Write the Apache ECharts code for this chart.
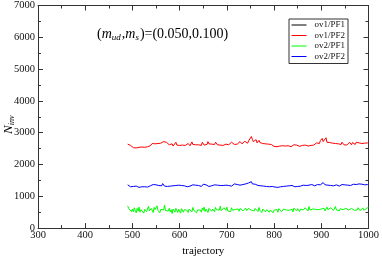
<!DOCTYPE html>
<html>
<head>
<meta charset="utf-8">
<script src="https://cdn.jsdelivr.net/npm/echarts@6/dist/echarts.min.js"></script>
<style>html,body{margin:0;padding:0;background:#fff}#c{width:382px;height:262px}</style>
</head>
<body>
<div id="c"></div>
<script>
// ---- data ----
const trajStart = 490;   // first trajectory shown
const trajStep = 2;      // sampling step of the arrays below
const seriesNames = ['ov1/PF1', 'ov1/PF2', 'ov2/PF1', 'ov2/PF2'];
const xTicks = [300, 400, 500, 600, 700, 800, 900, 1000];
const yTicks = [0, 1000, 2000, 3000, 4000, 5000, 6000, 7000];

const ov1PF1 = []; // not visible in the reference (hidden)

const ov1PF2 = [
2640,2610,2580,2600,2560,
2550,2530,2560,2540,2520,2550,2570,2540,2530,2560,2550,2580,2560,2540,2570,2590,2560,2580,2610,2590,
2630,2660,2620,2690,2650,2640,2680,2660,2630,2700,2670,2690,2650,2720,2680,2760,2700,2660,2640,2620,
2610,2590,2650,2580,2620,2600,2700,2610,2580,2630,2600,2570,2640,2610,2590,2560,2600,2620,2580,2660,2610,2590,2620,2710,2630,2600,2580,2620,2650,2600,
2620,2680,2640,2600,2700,2650,2610,2640,2590,2630,2720,2650,2620,2680,2640,2600,2660,2630,2700,2640,2620,2590,2640,2610,2660,2630,2600,2650,2620,2640,
2630,2660,2620,2680,2650,2700,2640,2670,2630,2690,2660,2640,2700,2670,2720,2680,2650,2700,2680,2730,2690,2710,2670,2740,2700,2750,2880,2790,2720,2760,
2700,2780,2680,2650,2760,2690,2640,2720,2660,2630,2700,2650,2620,2680,2640,2610,2590,2630,2600,2580,
2570,2600,2580,2560,2590,2610,2580,2570,2600,2590,2560,2620,2580,2600,2570,2590,2610,2580,2560,2600,2590,2620,2600,2640,2610,2580,2600,2570,2590,2620,
2600,2630,2590,2610,2650,2600,2580,2620,2640,2600,2590,2630,2610,2650,2620,2680,2640,2700,2660,2750,
2700,2820,2720,2680,2780,2840,2700,2660,2760,2690,2650,2720,2670,2640,2700,2660,2630,2680,2650,2620,
2660,2630,2700,2650,2620,2680,2640,2610,2670,2630,2700,2650,2620,2690,2640,2660,2630,2700,2670,2640,2680,2650,2720,2660,2640,2700,2670,2650,2720,2680,2700
];

const ov2PF1 = [
700,620,560,650,520,
600,510,640,550,480,620,540,660,500,580,530,610,470,590,640,520,570,690,540,500,
620,560,490,650,580,520,700,560,610,480,590,640,530,570,720,550,500,600,540,620,
510,580,460,600,540,500,620,560,490,590,530,470,610,550,500,580,640,520,560,490,600,540,580,510,650,560,530,600,480,570,
540,610,570,500,630,560,660,520,600,550,490,620,580,640,530,600,560,510,650,580,540,620,570,690,550,600,530,640,580,560,
660,540,600,580,520,640,560,610,500,590,650,560,600,530,620,580,660,540,600,570,630,550,500,620,580,640,560,610,590,540,
620,570,600,520,650,560,590,490,600,550,620,510,580,540,610,500,570,530,600,480,
560,620,530,590,500,610,560,640,520,580,600,540,660,570,520,600,560,620,540,590,510,630,570,600,540,610,580,520,600,560,
620,570,530,640,580,600,540,680,570,610,550,600,640,560,590,530,620,580,640,560,
600,650,570,620,540,600,660,580,610,550,640,590,620,560,600,680,570,620,590,540,
610,570,640,580,600,550,620,590,660,570,600,540,620,580,650,560,600,620,570,640,590,550,610,580,630,560,600,540,620,590,660
];

const ov2PF2 = [
1360,1340,1320,1300,1310,
1290,1310,1280,1300,1320,1290,1300,1280,1310,1330,1300,1290,1320,1300,1340,1310,1290,1320,1300,1330,
1350,1320,1370,1340,1310,1360,1330,1380,1340,1320,1360,1330,1400,1350,1320,1370,1340,1310,1350,1330,
1320,1340,1300,1330,1360,1310,1340,1320,1300,1350,1330,1310,1340,1320,1380,1330,1310,1340,1300,1330,1350,1320,1340,1310,1360,1330,1320,1350,1330,1310,
1340,1360,1330,1310,1350,1380,1340,1320,1360,1330,1350,1310,1340,1370,1330,1350,1320,1360,1340,1310,1350,1330,1370,1340,1320,1360,1340,1330,1370,1350,
1330,1360,1340,1380,1350,1320,1370,1340,1390,1350,1330,1370,1360,1400,1350,1380,1340,1370,1410,1360,1390,1350,1380,1420,1370,1400,1460,1390,1360,1410,
1380,1420,1360,1340,1390,1350,1330,1370,1340,1320,1360,1330,1310,1350,1330,1300,1340,1320,1310,1290,
1310,1290,1320,1300,1280,1310,1330,1300,1290,1320,1310,1340,1300,1320,1290,1310,1330,1300,1320,1340,1310,1330,1300,1320,1350,1310,1330,1300,1320,1340,
1320,1350,1330,1310,1340,1360,1330,1350,1320,1340,1370,1340,1360,1330,1380,1350,1370,1340,1390,1360,
1400,1370,1430,1380,1360,1410,1370,1350,1390,1360,1340,1380,1350,1330,1370,1340,1360,1330,1350,1320,
1350,1330,1370,1340,1320,1360,1340,1380,1350,1330,1370,1340,1360,1330,1380,1350,1340,1370,1350,1330,1390,1360,1340,1380,1350,1400,1360,1340,1380,1370,1390
];

// ---- build ----
function pairs(vals) { return vals.map((v, i) => [trajStart + i * trajStep, v]); }
const seriesValues = [ov1PF1, ov1PF2, ov2PF1, ov2PF2];
const colors = ['#000000', '#ff0000', '#00ff00', '#0000ff'];
const FONT = '"Liberation Serif", "DejaVu Serif", serif';
const AX = '#333';

const chart = echarts.init(document.getElementById('c'), null, { renderer: 'canvas' });

const baseX = {
  type: 'value', min: xTicks[0], max: xTicks[xTicks.length - 1], interval: 100,
  axisLine: { show: true, onZero: false, lineStyle: { color: AX, width: 1 } },
  axisTick: { show: true, inside: true, length: 5, lineStyle: { color: AX } },
  minorTick: { show: true, splitNumber: 2, length: 3, lineStyle: { color: AX } },
  splitLine: { show: false }, minorSplitLine: { show: false }
};
const baseY = {
  type: 'value', min: yTicks[0], max: yTicks[yTicks.length - 1], interval: 1000,
  axisLine: { show: true, onZero: false, lineStyle: { color: AX, width: 1 } },
  axisTick: { show: true, inside: true, length: 5, lineStyle: { color: AX } },
  minorTick: { show: true, splitNumber: 2, length: 3, lineStyle: { color: AX } },
  splitLine: { show: false }, minorSplitLine: { show: false }
};

chart.setOption({
  animation: false,
  backgroundColor: '#fff',
  grid: { left: 38, right: 10, top: 4, bottom: 25, containLabel: false },
  xAxis: [
    Object.assign({}, baseX, {
      position: 'bottom',
      name: 'trajectory', nameLocation: 'middle', nameGap: 15,
      nameTextStyle: { fontFamily: FONT, fontSize: 11, color: '#000' },
      axisLabel: { show: true, margin: 2, fontFamily: FONT, fontSize: 10.5, color: '#111',
        formatter: v => String(v) }
    }),
    Object.assign({}, baseX, { position: 'top', axisLabel: { show: false } })
  ],
  yAxis: [
    Object.assign({}, baseY, {
      position: 'left',
      axisLabel: { show: true, margin: 3, fontFamily: FONT, fontSize: 10.5, color: '#111',
        formatter: v => String(v) }
    }),
    Object.assign({}, baseY, { position: 'right', axisLabel: { show: false } })
  ],
  legend: {
    data: seriesNames,
    orient: 'vertical', left: 289, top: 19,
    padding: [1, 3, 2, 2],
    borderColor: '#333', borderWidth: 1, backgroundColor: '#fff',
    itemWidth: 15, itemHeight: 10, itemGap: 0.5,
    itemStyle: { opacity: 0 },
    lineStyle: { width: 1 },
    textStyle: { fontFamily: FONT, fontSize: 9, color: '#111', lineHeight: 10, padding: [0, 0, 0, 3] }
  },
  graphic: [
    {
      type: 'text', left: 97, top: 27,
      style: {
        text: '({m|m}{sub|ud}{n|,}{m|m}{sub|s}{n|)=(0.050,0.100)}',
        fontFamily: FONT, fontSize: 14, fill: '#000',
        rich: {
          m: { fontFamily: FONT, fontSize: 14, fontStyle: 'italic', fill: '#000' },
          n: { fontFamily: FONT, fontSize: 14, fill: '#000' },
          sub: { fontFamily: FONT, fontSize: 9, fontStyle: 'italic', fill: '#000', verticalAlign: 'bottom', padding: [8, 1, 0, 0] }
        }
      }
    },
    {
      type: 'text', x: 2, y: 134, rotation: Math.PI / 2,
      style: {
        text: '{m|N}{sub|inv}',
        rich: {
          m: { fontFamily: FONT, fontSize: 13, fontStyle: 'italic', fill: '#000' },
          sub: { fontFamily: FONT, fontSize: 8, fontStyle: 'italic', fill: '#000', verticalAlign: 'bottom', padding: [6, 0, 0, 0] }
        }
      }
    }
  ],
  series: seriesNames.map((n, i) => ({
    name: n, type: 'line', xAxisIndex: 0, yAxisIndex: 0,
    data: pairs(seriesValues[i]),
    symbol: 'none', showSymbol: false,
    lineStyle: { color: colors[i], width: 1 },
    itemStyle: { color: colors[i] },
    clip: true, silent: true, z: 2 + i
  }))
});
</script>
</body>
</html>
